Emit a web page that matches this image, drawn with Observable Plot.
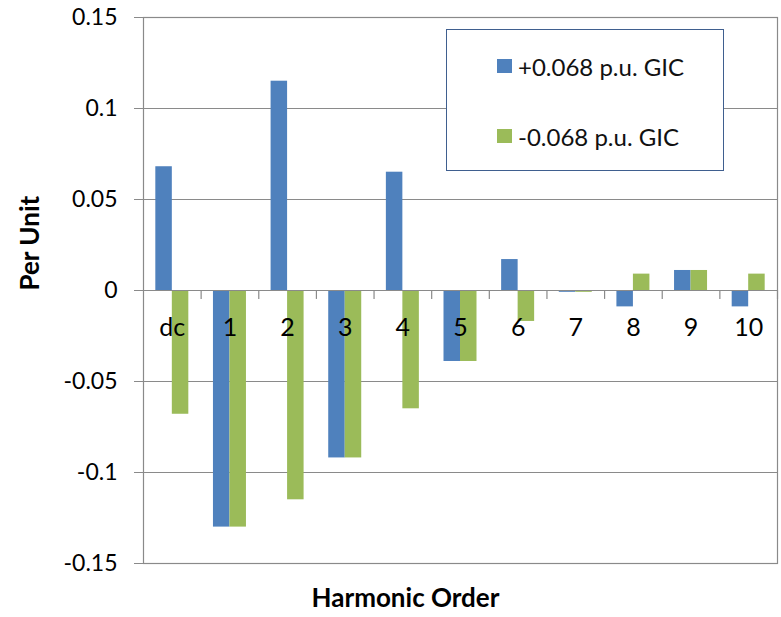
<!DOCTYPE html>
<html><head><meta charset="utf-8">
<script src="https://cdn.jsdelivr.net/npm/d3@7"></script>
<script src="https://cdn.jsdelivr.net/npm/@observablehq/plot@0.6"></script>
<style>
body{margin:0;background:#fff;}
#wrap{position:relative;width:781px;height:617px;font-family:Lato,sans-serif;}
#legend{position:absolute;left:446px;top:29px;width:278px;height:142px;border:1.5px solid #3f5f8f;background:#fff;box-sizing:border-box;}
.item{position:absolute;left:50px;height:24px;display:flex;align-items:center;font-size:24px;color:#111;white-space:nowrap;}
.sw{width:15px;height:14px;margin-right:6px;display:inline-block;}
</style>
</head><body>
<div id="wrap"></div>
<script>
const categories = ["dc","1","2","3","4","5","6","7","8","9","10"];
const posGIC = [0.068, -0.13, 0.115, -0.092, 0.065, -0.039, 0.017, -0.001, -0.009, 0.011, -0.009];
const negGIC = [-0.068, -0.13, -0.115, -0.092, -0.065, -0.039, -0.017, -0.001, 0.009, 0.011, 0.009];
const seriesNames = ["+0.068 p.u. GIC", "-0.068 p.u. GIC"];
const seriesColors = ["#4F81BD", "#9BBB59"];
const yTicks = [-0.15, -0.1, -0.05, 0, 0.05, 0.1, 0.15];
const yLabel = "Per Unit";
const xLabel = "Harmonic Order";

const rows = categories.map((c, i) => ({cat: c, pos: posGIC[i], neg: negGIC[i]}));
const fmt = d => String(+d.toFixed(2));
const gray = "#8a8a8a";
const bw = (781 - 143 - 4) / categories.length;
const half = bw / 2;
const barW = 16.5;

const chart = Plot.plot({
  width: 781, height: 617,
  marginLeft: 143, marginRight: 4, marginTop: 17, marginBottom: 54,
  x: {domain: categories, padding: 0, round: false, axis: null},
  y: {domain: [-0.15, 0.15], axis: null},
  style: {fontFamily: "Lato, sans-serif", color: "#000", background: "#fff"},
  marks: [
    Plot.gridY(yTicks, {stroke: gray, strokeOpacity: 1, strokeWidth: 1.2}),
    Plot.frame({stroke: gray, strokeWidth: 1.2}),
    Plot.barY(rows, {x: "cat", y: "pos", fill: seriesColors[0], insetLeft: half - barW, insetRight: half}),
    Plot.barY(rows, {x: "cat", y: "neg", fill: seriesColors[1], insetLeft: half, insetRight: half - barW}),
    Plot.ruleY([0], {stroke: gray, strokeWidth: 1.2}),
    Plot.ruleX(categories, {x: d => d, dx: half, y1: 0, y2: -0.0049, stroke: gray, strokeWidth: 1.2}),
    Plot.axisY(yTicks, {tickSize: 9, tickPadding: 17, tickFormat: fmt, stroke: gray, fontSize: 23, label: null}),
    Plot.text(categories, {x: d => d, y: 0, dy: 37, text: d => d, fontSize: 25, fill: "#000"}),
    Plot.text([yLabel], {frameAnchor: "left", dx: -113, rotate: -90, text: d => d, fontWeight: "bold", fontSize: 26, fill: "#000"}),
    Plot.text([xLabel], {frameAnchor: "bottom", dx: -55, dy: 43, text: d => d, fontWeight: "bold", fontSize: 26, fill: "#000"})
  ]
});
const wrap = document.getElementById("wrap");
wrap.appendChild(chart);

const legend = document.createElement("div");
legend.id = "legend";
seriesNames.forEach((name, i) => {
  const it = document.createElement("div");
  it.className = "item";
  it.style.top = (i === 0 ? 24 : 94) + "px";
  const sw = document.createElement("span");
  sw.className = "sw";
  sw.style.background = seriesColors[i];
  it.appendChild(sw);
  it.appendChild(document.createTextNode(name));
  legend.appendChild(it);
});
wrap.appendChild(legend);
</script>
</body></html>
